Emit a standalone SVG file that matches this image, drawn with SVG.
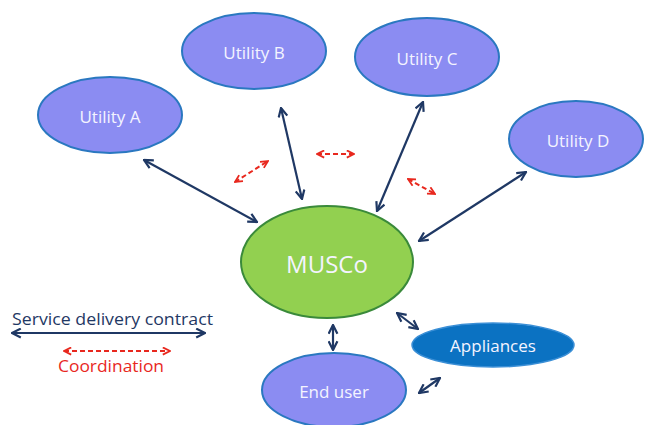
<svg xmlns="http://www.w3.org/2000/svg" width="645" height="425" viewBox="0 0 645 425">
<defs>
<marker id="nv" viewBox="0 0 10 10" refX="9" refY="5" markerWidth="11" markerHeight="11" markerUnits="userSpaceOnUse" orient="auto-start-reverse">
<path d="M1,1 L9,5 L1,9" fill="none" stroke="#1f3864" stroke-width="2"/>
</marker>
<marker id="rd" viewBox="0 0 10 10" refX="9" refY="5" markerWidth="9" markerHeight="9" markerUnits="userSpaceOnUse" orient="auto-start-reverse">
<path d="M1,1 L9,5 L1,9" fill="none" stroke="#e8281e" stroke-width="2"/>
</marker>
</defs>
<style>
.util{fill:#8b8cf2;stroke:#2a78c0;stroke-width:2}
.lbl{font-family:"Open Sans","Liberation Sans",sans-serif;fill:#f4f4ff;text-anchor:middle;dominant-baseline:central}
.nv{stroke:#1f3864;stroke-width:2.2;fill:none;marker-start:url(#nv);marker-end:url(#nv)}
.rd{stroke:#e8281e;stroke-width:2;fill:none;stroke-dasharray:5,3;marker-start:url(#rd);marker-end:url(#rd)}
</style>
<rect width="645" height="425" fill="#ffffff"/>
<g id="utilityA"><ellipse class="util" cx="110" cy="115" rx="72" ry="38"/><text class="lbl" x="110" y="116" font-size="17">Utility A</text></g>
<g id="utilityB"><ellipse class="util" cx="254" cy="51" rx="72" ry="38"/><text class="lbl" x="254" y="52" font-size="17">Utility B</text></g>
<g id="utilityC"><ellipse class="util" cx="427" cy="57" rx="72" ry="39"/><text class="lbl" x="427" y="58" font-size="17">Utility C</text></g>
<g id="utilityD"><ellipse class="util" cx="576" cy="139" rx="67" ry="38"/><text class="lbl" x="578" y="140" font-size="17">Utility D</text></g>
<g id="musco"><ellipse cx="327" cy="262" rx="86" ry="56" fill="#92d050" stroke="#3a8a3a" stroke-width="2"/><text class="lbl" x="327" y="263" font-size="24">MUSCo</text></g>
<g id="appliances"><ellipse cx="493" cy="345" rx="81" ry="22" fill="#0b72c2" stroke="#3b8fd6" stroke-width="1.5"/><text class="lbl" x="493" y="345" font-size="17">Appliances</text></g>
<g id="enduser"><ellipse class="util" cx="334" cy="390" rx="72" ry="37"/><text class="lbl" x="334" y="391" font-size="17">End user</text></g>
<g id="connectors">
<line class="nv" x1="144" y1="160" x2="257" y2="222"/>
<line class="nv" x1="281" y1="108" x2="302" y2="199"/>
<line class="nv" x1="423" y1="102" x2="377" y2="211"/>
<line class="nv" x1="526" y1="172" x2="419" y2="241"/>
<line class="nv" x1="333" y1="325" x2="333" y2="350"/>
<line class="nv" x1="397" y1="313" x2="418" y2="329"/>
<line class="nv" x1="440" y1="378" x2="419" y2="393"/>
<line class="rd" x1="235" y1="182" x2="268" y2="161"/>
<line class="rd" x1="317" y1="154" x2="354" y2="154"/>
<line class="rd" x1="408" y1="179" x2="435" y2="194"/>
</g>
<g id="legend">
<text x="12" y="325" font-family="Open Sans, Liberation Sans, sans-serif" font-size="16" fill="#1f3864" textLength="201" lengthAdjust="spacingAndGlyphs">Service delivery contract</text>
<line class="nv" x1="12" y1="333" x2="205" y2="333"/>
<line class="rd" x1="64" y1="351" x2="170" y2="351"/>
<text x="58" y="372" font-family="Open Sans, Liberation Sans, sans-serif" font-size="16" fill="#e8281e" textLength="106" lengthAdjust="spacingAndGlyphs">Coordination</text>
</g>
</svg>
